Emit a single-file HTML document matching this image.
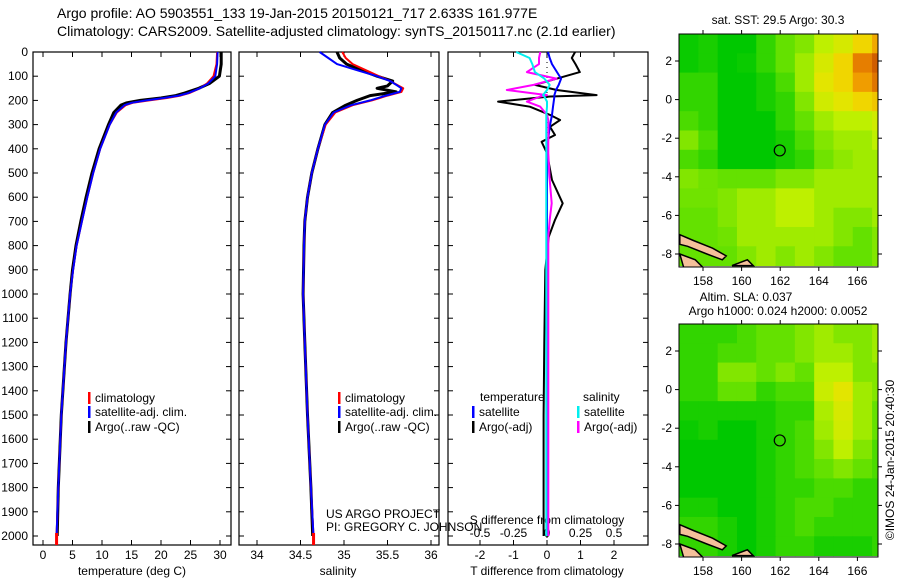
<!DOCTYPE html>
<html><head><meta charset="utf-8"><style>
html,body{margin:0;padding:0;background:#fff;}
svg{display:block;font-family:"Liberation Sans",sans-serif;}
</style></head><body>
<svg id="fig" width="900" height="580" viewBox="0 0 900 580">
<text x="57" y="18" font-size="14">Argo profile: AO 5903551_133 19-Jan-2015 20150121_717 2.633S 161.977E</text>
<text x="57" y="36" font-size="14">Climatology: CARS2009. Satellite-adjusted climatology: synTS_20150117.nc (2.1d earlier)</text>
<g id="g"></g>
</svg>
<script>
// ---- data ----
const depthT = [0,50,100,130,150,170,180,190,200,210,220,250,300,400,500,600,700,800,900,1000,1200,1500,1800,2000];
const tempArgo = [30.2,30.2,29.9,28.2,26.4,24.0,22.5,20.0,16.5,14.2,13.2,12.0,11.1,9.5,8.3,7.3,6.4,5.6,5.0,4.6,3.9,3.1,2.6,2.4];
const tempClim = [29.5,29.4,28.9,27.8,26.6,24.8,23.3,21.0,18.0,15.2,14.0,12.5,11.3,9.7,8.5,7.5,6.6,5.7,5.1,4.6,3.9,3.1,2.6,2.3];
const tempSat  = [29.6,29.5,29.2,28.0,26.6,24.6,23.0,20.5,17.5,15.0,13.8,12.4,11.3,9.7,8.5,7.5,6.6,5.7,5.1,4.6,3.9,3.1,2.6,2.3];
const depthS = [0,25,50,75,100,120,140,150,165,180,200,220,250,300,400,500,600,700,800,1000,1200,1500,1800,2000];
const salArgo = [34.92,34.95,35.03,35.20,35.38,35.56,35.50,35.38,35.60,35.30,35.15,35.02,34.87,34.78,34.70,34.63,34.58,34.55,34.54,34.53,34.55,34.58,34.62,34.64];
const salClim = [34.98,35.02,35.10,35.25,35.40,35.53,35.63,35.68,35.66,35.50,35.32,35.10,34.90,34.79,34.70,34.63,34.58,34.55,34.54,34.53,34.55,34.58,34.62,34.65];
const salSat  = [34.72,34.82,34.92,35.15,35.38,35.53,35.62,35.66,35.64,35.48,35.30,35.08,34.88,34.78,34.70,34.63,34.58,34.55,34.54,34.53,34.55,34.58,34.62,34.65];
const depthD = [0,25,50,83,110,136,157,178,184,205,226,260,281,309,343,371,418,529,625,694,764,900,1200,1500,1800,2000];
const tDiffArgo = [0.84,0.74,0.85,0.98,0.3,-0.36,0.29,1.48,0.09,-1.46,-0.51,0.09,0.39,0.09,0.24,-0.16,0.0,0.15,0.47,0.24,0.05,-0.05,-0.08,-0.1,-0.1,-0.1];
const tDiffSat  = [0.03,0.08,0.15,0.3,0.42,0.35,0.27,0.22,0.22,0.2,0.18,0.15,0.12,0.08,0.05,0.03,0.02,0.0,0.0,0.0,0.0,0.0,0.0,0.0,0.0,0.0];
const sDiffArgo = [-0.05,-0.06,-0.06,-0.15,0.07,-0.1,-0.3,0.0,-0.05,-0.15,-0.05,0.0,0.01,0.01,0.01,0.01,0.01,0.02,0.035,0.02,0.01,0.01,0.01,0.01,0.01,0.01];
const sDiffSat  = [-0.23,-0.13,-0.11,-0.09,-0.02,0.02,0.0,-0.03,-0.02,0.0,0.0,-0.005,-0.005,-0.005,-0.005,-0.005,-0.005,-0.005,-0.005,-0.005,-0.005,-0.005,-0.005,-0.005,-0.005,-0.005];
const depthTicks = [0,100,200,300,400,500,600,700,800,900,1000,1100,1200,1300,1400,1500,1600,1700,1800,1900,2000];
const tempTicks = [0,5,10,15,20,25,30];
const salTicks = [34,34.5,35,35.5,36];
const salTickLabels = ["34","34.5","35","35.5","36"];
const tdTicks = [-2,-1,0,1,2];
const sdTickLabels = ["-0.5","-0.25","0","0.25","0.5"];
const lonTicks = [158,160,162,164,166];
const latTicks = [2,0,-2,-4,-6,-8];
const argoLon = 161.977, argoLat = -2.633;
const sstGrid = [
[.22,.25,.2,.2,.3,.4,.45,.55,.62,.72,.8],
[.22,.25,.2,.22,.3,.4,.5,.62,.72,.88,.95],
[.3,.3,.2,.2,.25,.35,.5,.66,.72,.82,.9],
[.3,.3,.2,.2,.25,.3,.45,.6,.66,.72,.75],
[.35,.3,.2,.2,.2,.3,.4,.5,.55,.55,.6],
[.45,.35,.2,.2,.2,.25,.35,.45,.5,.5,.55],
[.35,.3,.2,.2,.2,.25,.3,.42,.47,.5,.5],
[.45,.42,.4,.4,.4,.45,.45,.5,.5,.5,.5],
[.42,.42,.45,.5,.5,.55,.55,.5,.5,.5,.5],
[.4,.4,.45,.5,.5,.55,.55,.5,.45,.45,.5],
[.4,.4,.42,.5,.5,.5,.5,.5,.45,.4,.45],
[.4,.4,.4,.45,.5,.45,.5,.45,.4,.4,.45]];
const slaGrid = [
[.3,.3,.3,.35,.4,.4,.45,.5,.45,.45,.5],
[.3,.3,.35,.35,.4,.4,.45,.5,.5,.45,.5],
[.3,.3,.45,.45,.4,.45,.4,.55,.55,.45,.45],
[.3,.3,.4,.4,.3,.35,.35,.58,.66,.5,.45],
[.25,.25,.25,.25,.25,.3,.3,.52,.62,.5,.4],
[.22,.25,.2,.2,.25,.3,.35,.5,.6,.5,.4],
[.2,.2,.2,.2,.25,.3,.35,.45,.55,.45,.35],
[.2,.2,.2,.2,.25,.3,.35,.4,.45,.4,.35],
[.2,.2,.2,.2,.25,.3,.3,.35,.35,.3,.3],
[.25,.25,.2,.2,.25,.3,.35,.35,.3,.3,.3],
[.3,.3,.25,.2,.25,.3,.35,.3,.3,.3,.3],
[.3,.3,.25,.2,.25,.3,.3,.25,.25,.25,.3]];

// ---- helpers ----
const NS="http://www.w3.org/2000/svg";
const G=document.getElementById('g');
function mk(tag,attrs,parent){const e=document.createElementNS(NS,tag);for(const k in attrs)e.setAttribute(k,attrs[k]);(parent||G).appendChild(e);return e;}
function txt(x,y,s,anchor,size,parent){const t=mk('text',{x:x,y:y,'font-size':size||12,'text-anchor':anchor||'start'},parent);t.textContent=s;return t;}
const dTop=52, dScale=0.242, pBot=545;
const yD=d=>dTop+d*dScale;
const xT=t=>43+t*5.9;
const xS=s=>257+(s-34)*87;
const xTD=t=>547+t*33.5;
const xSD=s=>547+s*134;

function frame(x0,x1,name,leftLabels){
  const r=mk('rect',{x:x0,y:dTop,width:x1-x0,height:pBot-dTop,fill:'none',stroke:'#000','stroke-width':1.2});
  
  
  depthTicks.forEach(d=>{
    mk('line',{x1:x0,x2:x0+5,y1:yD(d),y2:yD(d),stroke:'#000'});
    mk('line',{x1:x1-5,x2:x1,y1:yD(d),y2:yD(d),stroke:'#000'});
    if(leftLabels){const t=txt(28,yD(d)+4,String(d),'end',12);
      
      }
  });
}
function line(xs,ds,xf,color,w,name){
  const p=xs.map((v,i)=>xf(v).toFixed(1)+','+yD(ds[i]).toFixed(1)).join(' ');
  const e=mk('polyline',{points:p,fill:'none',stroke:color,'stroke-width':w,'stroke-linejoin':'round'});
  
  
}
function legendEntry(x,y,color,label){
  const g=mk('g',{});
  
  
  mk('rect',{x:x,y:y-10,width:2.5,height:12,fill:color},g);
  txt(x+7,y,label,'start',12,g);
}

// ---- panel 1 temperature ----
frame(33,231,'temperature-panel',true);
tempTicks.forEach(t=>{mk('line',{x1:xT(t),x2:xT(t),y1:dTop,y2:dTop+5,stroke:'#000'});mk('line',{x1:xT(t),x2:xT(t),y1:pBot-5,y2:pBot,stroke:'#000'});
  const l=txt(xT(t),559,String(t),'middle',12);
  
  });
const xl1=txt(132,575,'temperature (deg C)','middle',12);


line(tempArgo,depthT,xT,'#000',3,'temperature-argo-line');
line(tempClim,depthT,xT,'#f00',2,'temperature-climatology-line');
line(tempSat,depthT,xT,'#00f',2,'temperature-satellite-line');
mk('rect',{x:xT(2.3)-1.5,y:pBot-12,width:3,height:12,fill:'#f00'});
legendEntry(88,402,'#f00','climatology');
legendEntry(88,416,'#00f','satellite-adj. clim.');
legendEntry(88,431,'#000','Argo(..raw -QC)');

// ---- panel 2 salinity ----
frame(239,439,'salinity-panel',false);
salTicks.forEach((s,i)=>{mk('line',{x1:xS(s),x2:xS(s),y1:dTop,y2:dTop+5,stroke:'#000'});mk('line',{x1:xS(s),x2:xS(s),y1:pBot-5,y2:pBot,stroke:'#000'});
  const l=txt(xS(s),559,salTickLabels[i],'middle',12);
  
  });
const xl2=txt(338,575,'salinity','middle',12);


line(salArgo,depthS,xS,'#000',3,'salinity-argo-line');
line(salClim,depthS,xS,'#f00',2,'salinity-climatology-line');
line(salSat,depthS,xS,'#00f',2,'salinity-satellite-line');
mk('rect',{x:xS(34.65)-1.5,y:pBot-12,width:3,height:12,fill:'#f00'});
legendEntry(338,402,'#f00','climatology');
legendEntry(338,416,'#00f','satellite-adj. clim.');
legendEntry(338,431,'#000','Argo(..raw -QC)');
const c1=txt(326,518,'US ARGO PROJECT','start',12);


const c2=txt(326,531,'PI: GREGORY C. JOHNSON','start',12);



// ---- panel 3 differences ----
frame(448,648,'difference-panel',false);
tdTicks.forEach((t,i)=>{mk('line',{x1:xTD(t),x2:xTD(t),y1:dTop,y2:dTop+5,stroke:'#000'});mk('line',{x1:xTD(t),x2:xTD(t),y1:pBot-5,y2:pBot,stroke:'#000'});
  const l=txt(xTD(t),559,String(t),'middle',12);
  
  
  const s=txt(xTD(t),537,sdTickLabels[i],'middle',12);
  
  });
mk('line',{x1:547,x2:547,y1:dTop,y2:pBot,stroke:'#000','stroke-dasharray':'1,4'});
const xl3=txt(547,575,'T difference from climatology','middle',12);


const xl4=txt(547,524,'S difference from climatology','middle',12);


line(tDiffArgo,depthD,xTD,'#000',2,'t-difference-argo-line');
line(tDiffSat,depthD,xTD,'#00f',2,'t-difference-satellite-line');
line(sDiffArgo,depthD,xSD,'#f0f',2,'s-difference-argo-line');
line(sDiffSat,depthD,xSD,'#0ee',2,'s-difference-satellite-line');
txt(480,401,'temperature','start',12);
txt(583,401,'salinity','start',12);
legendEntry(472,416,'#00f','satellite');
legendEntry(472,431,'#000','Argo(-adj)');
legendEntry(577,416,'#0ee','satellite');
legendEntry(577,431,'#f0f','Argo(-adj)');

// ---- maps ----
const mL=679,mR=878,ppd=19.3;
const xLon=l=>703+(l-158)*ppd;
const stops=[[0,[10,150,60]],[0.2,[0,200,0]],[0.4,[100,225,0]],[0.55,[190,240,0]],[0.7,[240,225,0]],[0.85,[240,140,0]],[1,[190,70,0]]];
function col(v){for(let i=1;i<stops.length;i++){if(v<=stops[i][0]){const a=stops[i-1],b=stops[i],f=(v-a[0])/(b[0]-a[0]);return 'rgb('+a[1].map((c,k)=>Math.round(c+(b[1][k]-c)*f)).join(',')+')';}}return 'rgb(190,70,0)';}
function drawMap(top,bot,grid,name,id){
  const yLat=l=>top+27+(2-l)*ppd;
  const cp=mk('clipPath',{id:id});mk('rect',{x:mL,y:top,width:mR-mL,height:bot-top},cp);
  const g=mk('g',{'clip-path':'url(#'+id+')'});
  
  
  grid.forEach((row,r)=>row.forEach((v,c)=>{
    const lon0=156.76+c, lat0=3.4-r;
    const cell=mk('rect',{x:xLon(lon0),y:yLat(lat0),width:ppd+0.5,height:ppd+0.5,fill:col(v)},g);
    
    
  }));
  // land (Solomon Islands)
  const land=[[[156.8,-7.0],[157.5,-7.3],[158.5,-7.7],[159.2,-8.1],[159.0,-8.3],[158.2,-8.0],[157.2,-7.6],[156.8,-7.5]],
              [[156.8,-8.0],[157.6,-8.3],[158.0,-8.7],[157.0,-8.7]],
              [[159.5,-8.6],[160.6,-8.6],[160.3,-8.3]]];
  land.forEach(poly=>{const p=mk('polygon',{points:poly.map(q=>xLon(q[0]).toFixed(1)+','+yLat(q[1]).toFixed(1)).join(' '),fill:'#f5c09a',stroke:'#000','stroke-width':1.5},g);
    
    });
  const fr=mk('rect',{x:mL,y:top,width:mR-mL,height:bot-top,fill:'none',stroke:'#000','stroke-width':1});
  
  
  lonTicks.forEach(l=>{mk('line',{x1:xLon(l),x2:xLon(l),y1:top-4,y2:top,stroke:'#000'});mk('line',{x1:xLon(l),x2:xLon(l),y1:bot,y2:bot+4,stroke:'#000'});
    const t=txt(xLon(l),bot+18,String(l),'middle',12);
    
    });
  latTicks.forEach(l=>{mk('line',{x1:mL-4,x2:mL,y1:yLat(l),y2:yLat(l),stroke:'#000'});mk('line',{x1:mR,x2:mR+4,y1:yLat(l),y2:yLat(l),stroke:'#000'});
    const t=txt(672,yLat(l)+4,String(l),'end',12);
    
    });
  const c=mk('circle',{cx:xLon(argoLon),cy:yLat(argoLat),r:5.5,fill:'none',stroke:'#000','stroke-width':1.2});
  
  
}
drawMap(34,267,sstGrid,'sst-map','cp1');
drawMap(324,557,slaGrid,'sla-map','cp2');
const m1=txt(778,24,'sat. SST: 29.5 Argo: 30.3','middle',12);


const m2=txt(746,301,'Altim. SLA: 0.037','middle',12);


const m3=txt(778,315,'Argo h1000: 0.024 h2000: 0.0052','middle',12);


const cr=txt(0,0,'\u00A9IMOS 24-Jan-2015 20:40:30','middle',12);
cr.setAttribute('transform','translate(894,460) rotate(-90)');


</script>
</body></html>
